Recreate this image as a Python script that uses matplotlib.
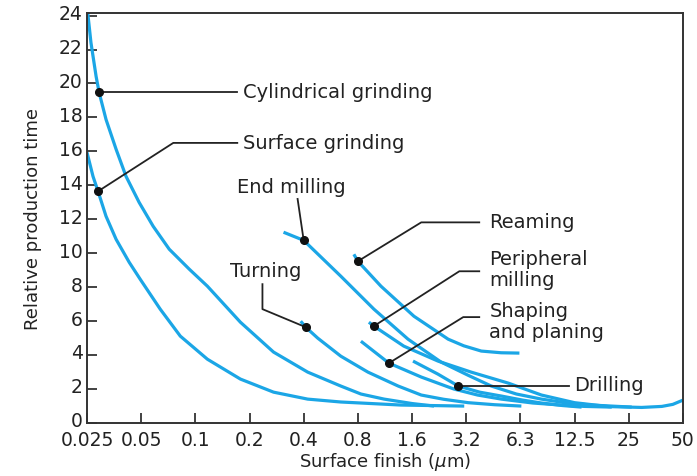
import matplotlib
matplotlib.use("Agg")
import matplotlib.pyplot as plt
import matplotlib.transforms as mtransforms
import numpy as np

# surface finish (um) tick values and their printed labels
tick_vals = [0.025 * 2 ** k for k in range(12)]
tick_labels = ['0.025', '0.05', '0.1', '0.2', '0.4', '0.8', '1.6', '3.2',
               '6.3', '12.5', '25', '50']

# curves: surface finish (um) / relative production time
cyl_x = [0.025, 0.0253, 0.0263, 0.0281, 0.0292, 0.0319, 0.0363, 0.0412, 0.0487,
         0.0583, 0.0716, 0.0926, 0.1167, 0.178, 0.272, 0.421, 0.643, 0.832,
         1.12, 1.6, 2.12]
cyl_y = [24.1, 24.06, 22.41, 20.41, 19.47, 17.88, 16.12, 14.53, 13.0,
         11.59, 10.24, 9.06, 8.06, 5.94, 4.18, 3.0, 2.18, 1.71,
         1.41, 1.15, 1.0]

surf_x = [0.025, 0.027, 0.0288, 0.0319, 0.0363, 0.0429, 0.0494, 0.0638, 0.0825,
          0.1167, 0.178, 0.272, 0.421, 0.643, 1.39, 3.12]
surf_y = [15.94, 14.53, 13.65, 12.18, 10.82, 9.47, 8.47, 6.71, 5.12,
          3.76, 2.59, 1.82, 1.41, 1.24, 1.06, 1.0]

endm_x = [0.309, 0.4, 0.643, 0.982, 1.52, 2.32, 3.3, 4.41, 6.08, 8.38, 11.6,
          15.9, 26.6]
endm_y = [11.24, 10.76, 8.65, 6.71, 4.94, 3.59, 2.8, 2.18, 1.71, 1.41, 1.18,
          1.06, 0.94]

turn_x = [0.385, 0.41, 0.479, 0.643, 0.91, 1.34, 1.80, 2.4, 3.28, 4.6, 6.48]
turn_y = [6.0, 5.65, 5.0, 3.94, 3.0, 2.18, 1.65, 1.4, 1.2, 1.08, 1.0]

ream_x = [0.76, 0.8, 1.075, 1.64, 2.54, 3.1, 3.88, 5.0, 6.32]
ream_y = [9.94, 9.53, 8.06, 6.29, 4.94, 4.55, 4.24, 4.14, 4.12]

peri_x = [0.921, 0.982, 1.44, 2.23, 3.41, 5.49, 8.38, 12.8, 19.8, 30.2, 39.1,
          45.0, 51.2]
peri_y = [5.94, 5.71, 4.53, 3.65, 3.0, 2.35, 1.65, 1.2, 0.97, 0.92, 0.98,
          1.1, 1.35]

shap_x = [0.832, 1.19, 1.80, 2.74, 3.7, 5.02, 7.5, 10.8, 14.5, 20.6]
shap_y = [4.82, 3.53, 2.71, 2.0, 1.65, 1.41, 1.18, 1.06, 0.98, 0.94]

dril_x = [1.62, 2.23, 2.89, 3.8, 5.02, 6.6, 8.38, 11.0, 14.0]
dril_y = [3.65, 2.88, 2.18, 1.82, 1.59, 1.35, 1.18, 1.03, 0.94]

curves = [(cyl_x, cyl_y), (surf_x, surf_y), (endm_x, endm_y), (turn_x, turn_y),
          (ream_x, ream_y), (peri_x, peri_y), (shap_x, shap_y), (dril_x, dril_y)]

blue = '#1ba6e6'
ink = '#222222'

fig = plt.figure(figsize=(6.97, 4.77), dpi=100)
ax = fig.add_axes([0.1248, 0.111, 0.855, 0.8596])

for xs, ys in curves:
    ax.plot(xs, ys, color=blue, lw=2.3, solid_capstyle='butt',
            solid_joinstyle='round', zorder=2)

ax.set_xscale('log', base=2)
ax.set_xlim(0.025, 51.2)
ax.set_ylim(0, 24.15)
ax.set_xticks(tick_vals)
ax.set_xticklabels(tick_labels)
ax.minorticks_off()
ax.set_yticks(range(0, 25, 2))
ax.tick_params(direction='in', length=7, width=1.2, colors=ink,
               labelsize=13.5, pad=3)
ax.tick_params(axis='x', pad=5)
for s in ax.spines.values():
    s.set_color('#333333')
    s.set_linewidth(1.4)

# y tick labels sit a little above their ticks in the original
shift = mtransforms.ScaledTranslation(0, 3 / 72, fig.dpi_scale_trans)
for lab in ax.get_yticklabels():
    lab.set_transform(lab.get_transform() + shift)

ax.set_xlabel(r'Surface finish ($\mu$m)', fontsize=13, color=ink, labelpad=1)
ax.set_ylabel('Relative production time', fontsize=13, color=ink, labelpad=12)

# leader lines: dot on the curve, bends, then label
fs = 14
leaders = [
    ([(0.0292, 19.5), (0.171, 19.5)], (0.185, 19.5), 'Cylindrical grinding', 'left'),
    ([(0.0288, 13.65), (0.0754, 16.5), (0.171, 16.5)], (0.185, 16.5), 'Surface grinding', 'left'),
    ([(0.4, 10.76), (0.370, 13.2)], (0.343, 13.95), 'End milling', 'center'),
    ([(0.41, 5.65), (0.236, 6.71), (0.236, 8.18)], (0.246, 9.0), 'Turning', 'center'),
    ([(0.8, 9.53), (1.80, 11.82), (3.78, 11.82)], (4.3, 11.85), 'Reaming', 'left'),
    ([(0.982, 5.71), (2.93, 8.94), (3.78, 8.94)], (4.3, 9.06), 'Peripheral\nmilling', 'left'),
    ([(1.19, 3.53), (3.08, 6.24), (3.78, 6.24)], (4.3, 6.0), 'Shaping\nand planing', 'left'),
    ([(2.89, 2.2), (11.85, 2.2)], (12.8, 2.25), 'Drilling', 'left'),
]
for pts, txt_pos, label, ha in leaders:
    px, py = zip(*pts)
    ax.plot(px, py, color=ink, lw=1.3, zorder=3)
    ax.plot(px[0], py[0], 'o', color='#111111', ms=5.5, zorder=4)
    ax.text(txt_pos[0], txt_pos[1], label, fontsize=fs, color=ink,
            ha=ha, va='center', linespacing=1.1)

plt.savefig('out.png', dpi=100)
